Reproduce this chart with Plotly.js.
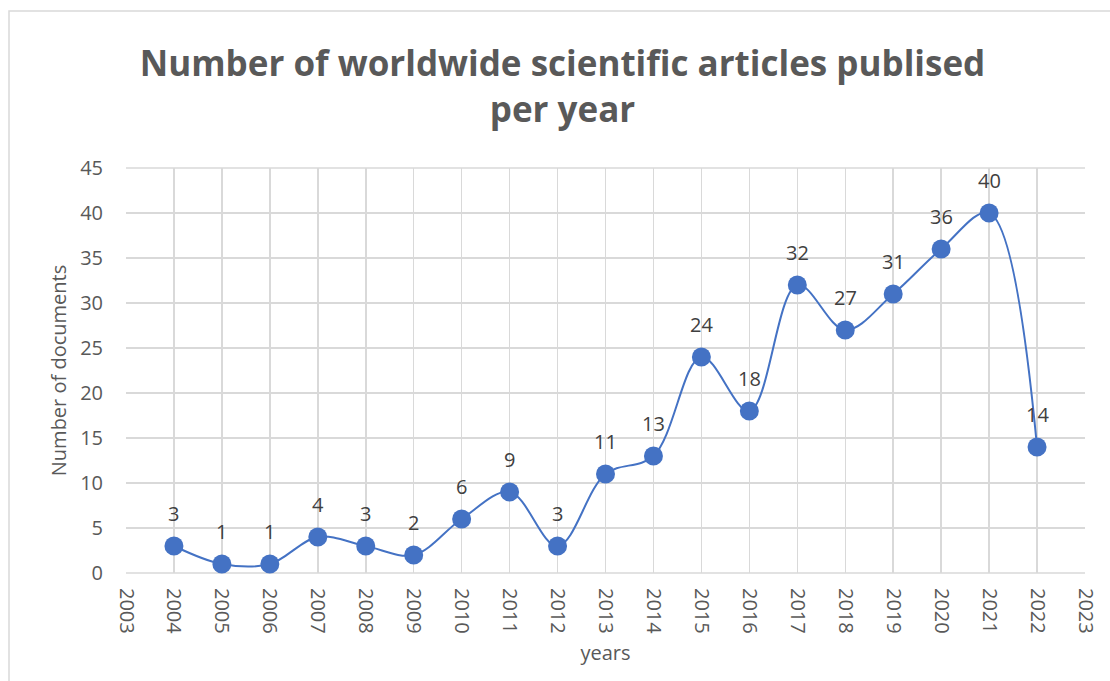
<!DOCTYPE html>
<html>
<head>
<meta charset="utf-8">
<script src="https://cdn.plot.ly/plotly-3.0.1.min.js"></script>
<style>
html,body{margin:0;padding:0;background:#fff;}
#chart{width:1110px;height:681px;}
</style>
</head>
<body>
<div id="chart"></div>
<script>
const years = [2004,2005,2006,2007,2008,2009,2010,2011,2012,2013,2014,2015,2016,2017,2018,2019,2020,2021,2022];
const documents = [3,1,1,4,3,2,6,9,3,11,13,24,18,32,27,31,36,40,14];
const chartTitle = "Number of worldwide scientific articles publised<br>per year";
const xTitle = "years";
const yTitle = "Number of documents";

const W = 1110, H = 681;
const m = {l:126, r:25, t:168, b:108};
const pw = W - m.l - m.r, ph = H - m.t - m.b;
function px(x){ return (x - m.l)/pw; }
function py(y){ return (H - m.b - y)/ph; }
const FONT = 'Open Sans, Liberation Sans, sans-serif';

const trace = {
  x: years,
  y: documents,
  type: 'scatter',
  mode: 'lines+markers',
  line: {shape: 'spline', smoothing: 1, color: '#4472C4', width: 2},
  marker: {size: 19, color: '#4472C4', line: {width: 0}},
  cliponaxis: false,
  hoverinfo: 'x+y'
};

const labels = years.map((yr, i) => ({
  x: yr, y: documents[i], xref: 'x', yref: 'y',
  text: String(documents[i]), showarrow: false,
  yshift: 33,
  font: {family: FONT, size: 20, color: '#404040'}
}));

const layout = {
  width: W, height: H,
  margin: m,
  paper_bgcolor: '#ffffff',
  plot_bgcolor: '#ffffff',
  showlegend: false,
  font: {family: FONT, color: '#595959', size: 20},
  title: {
    text: chartTitle,
    font: {family: FONT, size: 35, color: '#595959', weight: 'bold'},
    x: px(562.5), xanchor: 'center', xref: 'paper',
    y: 1 - 76/H, yanchor: 'middle', yref: 'container'
  },
  xaxis: {
    range: [2003, 2023],
    tickmode: 'linear', tick0: 2003, dtick: 1,
    tickangle: 90,
    showgrid: true, gridcolor: '#d9d9d9', gridwidth: 1.5,
    zeroline: false,
    showline: false,
    ticks: '',
    ticklabelstandoff: 14,
    tickfont: {size: 20, color: '#595959'},
    title: {text: xTitle, font: {size: 20, color: '#595959'}, standoff: 12},
    fixedrange: true
  },
  yaxis: {
    range: [0, 45],
    tickmode: 'linear', tick0: 0, dtick: 5,
    showgrid: true, gridcolor: '#d9d9d9', gridwidth: 1.5,
    zeroline: false,
    showline: false,
    ticks: '',
    ticklabelstandoff: 22,
    tickfont: {size: 20, color: '#595959'},
    title: {text: yTitle, font: {size: 20, color: '#595959'}, standoff: 8},
    fixedrange: true
  },
  annotations: labels,
  shapes: [
    {type: 'line', xref: 'paper', yref: 'paper', x0: 0, x1: 1, y0: 0, y1: 0, line: {color: '#d9d9d9', width: 1.5}, layer: 'below'},
    {type: 'line', xref: 'paper', yref: 'paper', x0: 0, x1: 1, y0: 1, y1: 1, line: {color: '#d9d9d9', width: 1.5}, layer: 'below'},
    {type: 'rect', xref: 'paper', yref: 'paper', x0: px(9), x1: px(1114), y0: py(11), y1: py(690), line: {color: '#d9d9d9', width: 1.5}, fillcolor: 'rgba(0,0,0,0)', layer: 'below'}
  ]
};

Plotly.newPlot('chart', [trace], layout, {displayModeBar: false, staticPlot: true});
</script>
</body>
</html>
